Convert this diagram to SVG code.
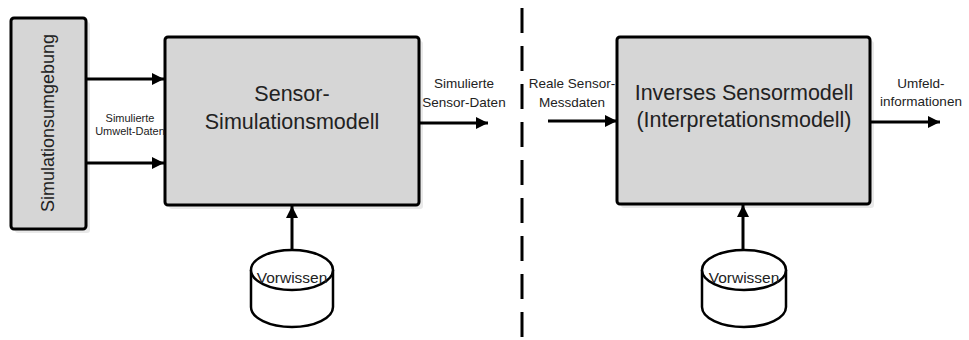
<svg xmlns="http://www.w3.org/2000/svg" width="969" height="340" viewBox="0 0 969 340">
<style>
text{font-family:"Liberation Sans",Arial,sans-serif;fill:#222;}
.box{fill:#d6d6d6;stroke:#000;stroke-width:3;}
.shadow{fill:#e9e9e9;stroke:none;}
.con{stroke:#000;stroke-width:3;fill:none;}
.big{font-size:21.5px;text-anchor:middle;}
.lbl{font-size:13.5px;text-anchor:middle;}
.sml{font-size:11px;text-anchor:middle;}
.cyl{fill:#fff;stroke:#000;stroke-width:2.5;}
</style>
<defs>
<marker id="ah" viewBox="0 0 10 10" refX="10" refY="5" markerWidth="4" markerHeight="4" orient="auto" markerUnits="strokeWidth">
<path d="M0,0 L10,5 L0,10 Z" fill="#000"/>
</marker>
</defs>
<g id="simulationsumgebung">
<rect class="shadow" x="15" y="22" width="75" height="211" rx="3"/>
<rect class="box" x="11" y="18" width="75" height="211" rx="3"/>
<text transform="translate(54,123) rotate(-90)" style="font-size:18px;text-anchor:middle">Simulationsumgebung</text>
</g>
<g id="sensor-simulationsmodell">
<rect class="shadow" x="169" y="41" width="254" height="168" rx="3"/>
<rect class="box" x="165" y="37" width="254" height="168" rx="3"/>
<text class="big" x="292" y="101">Sensor-</text>
<text class="big" x="292" y="129">Simulationsmodell</text>
</g>
<g id="vorwissen1">
<path class="cyl" d="M251,270 L251,307 A41,20 0 0 0 333,307 L333,270"/>
<ellipse class="cyl" cx="292" cy="270" rx="41" ry="20"/>
<text x="292" y="283" style="font-size:15.5px;text-anchor:middle">Vorwissen</text>
</g>
<g id="inverses-sensormodell">
<rect class="shadow" x="621" y="41" width="253" height="167" rx="3"/>
<rect class="box" x="617" y="37" width="253" height="167" rx="3"/>
<text class="big" x="744" y="100">Inverses Sensormodell</text>
<text class="big" x="744" y="127">(Interpretationsmodell)</text>
</g>
<g id="vorwissen2">
<path class="cyl" d="M702,270 L702,307 A42,20 0 0 0 786,307 L786,270"/>
<ellipse class="cyl" cx="744" cy="270" rx="42" ry="20"/>
<text x="744" y="283" style="font-size:15.5px;text-anchor:middle">Vorwissen</text>
</g>
<g id="connectors">
<line class="con" x1="86" y1="79" x2="164" y2="79" marker-end="url(#ah)"/>
<line class="con" x1="86" y1="163" x2="164" y2="163" marker-end="url(#ah)"/>
<line class="con" x1="419" y1="123" x2="488" y2="123" marker-end="url(#ah)"/>
<line class="con" x1="292" y1="250" x2="292" y2="206" marker-end="url(#ah)"/>
<line class="con" x1="548" y1="121" x2="617" y2="121" marker-end="url(#ah)"/>
<line class="con" x1="870" y1="122" x2="940" y2="122" marker-end="url(#ah)"/>
<line class="con" x1="743" y1="250" x2="743" y2="205" marker-end="url(#ah)"/>
<line x1="522" y1="8" x2="522" y2="340" stroke="#000" stroke-width="3" stroke-dasharray="25 13"/>
</g>
<g id="labels">
<text class="sml" x="130" y="122">Simulierte</text>
<text class="sml" x="130" y="135">Umwelt-Daten</text>
<text class="lbl" x="464" y="88">Simulierte</text>
<text class="lbl" x="464" y="107">Sensor-Daten</text>
<text class="lbl" x="572" y="88">Reale Sensor-</text>
<text class="lbl" x="572" y="107">Messdaten</text>
<text class="lbl" x="921" y="88">Umfeld-</text>
<text class="lbl" x="921" y="106">informationen</text>
</g>
</svg>
